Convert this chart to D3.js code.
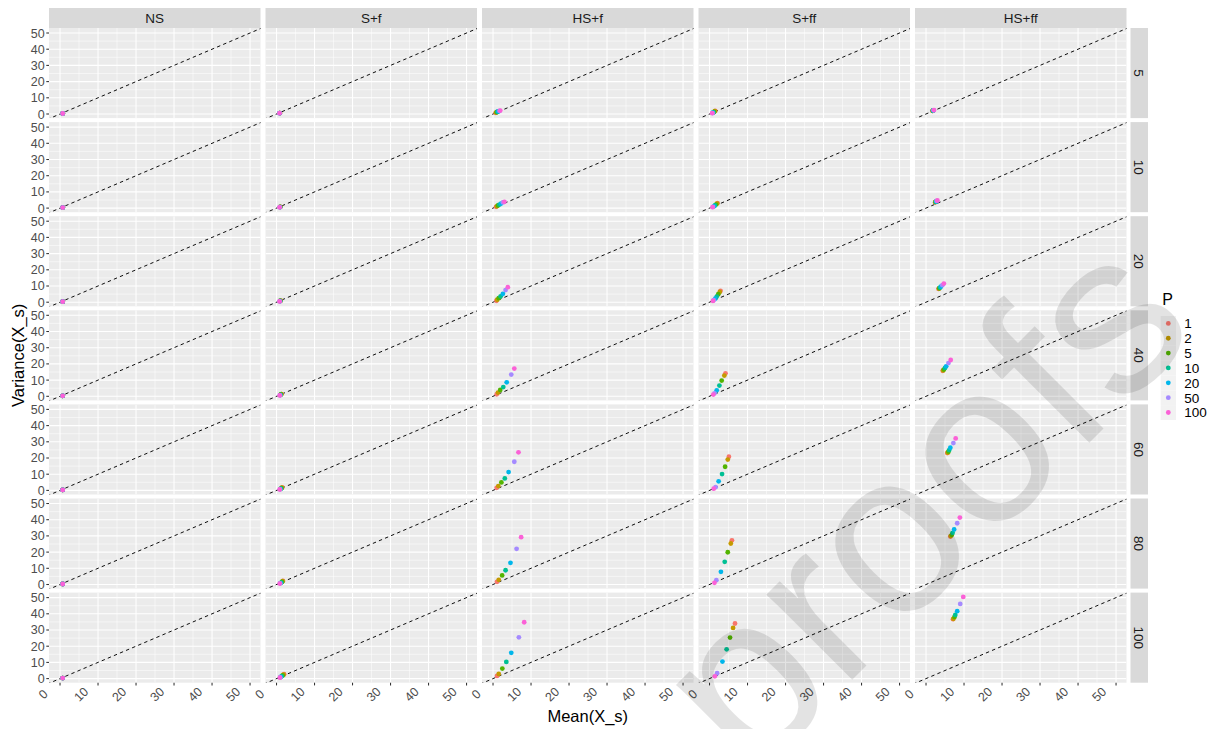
<!DOCTYPE html>
<html><head><meta charset="utf-8">
<script src="https://cdn.jsdelivr.net/npm/d3@7"></script>
<style>body{margin:0;background:#fff} svg{display:block} text{font-family:"Liberation Sans",Arial,Helvetica,sans-serif}</style>
</head><body><svg id="c" width="1217" height="729"></svg>
<script>
// ---------------- data ----------------
const colLabels = ["NS", "S+f", "HS+f", "S+ff", "HS+ff"];
const rowLabels = ["5", "10", "20", "40", "60", "80", "100"];
const pLevels = ["1", "2", "5", "10", "20", "50", "100"];
const pColors = ["#F8766D", "#C49A00", "#53B400", "#00C094", "#00B6EB", "#A58AFF", "#FB61D7"];
const xTicks = [0, 10, 20, 30, 40, 50];
const yTicks = [0, 10, 20, 30, 40, 50];

// each array: rows (5..100) x P levels (1..100)
const meanNS = [
  [0.7,0.7,0.7,0.7,0.7,0.7,0.7],[0.7,0.7,0.7,0.7,0.7,0.7,0.7],[0.7,0.7,0.7,0.7,0.7,0.7,0.7],
  [0.7,0.7,0.7,0.7,0.7,0.7,0.7],[0.7,0.7,0.7,0.7,0.7,0.7,0.7],[0.7,0.7,0.7,0.7,0.7,0.7,0.7],
  [0.7,0.7,0.7,0.7,0.7,0.7,0.7]];
const varNS = [
  [0.3,0.3,0.3,0.3,0.3,0.3,0.3],[0.3,0.3,0.3,0.3,0.3,0.3,0.3],[0.3,0.3,0.3,0.3,0.3,0.3,0.3],
  [0.3,0.3,0.3,0.3,0.3,0.3,0.3],[0.3,0.3,0.3,0.3,0.3,0.3,0.3],[0.3,0.3,0.3,0.3,0.3,0.3,0.3],
  [0.3,0.3,0.3,0.3,0.3,0.3,0.3]];
const meanSf = [
  [0.9,0.9,0.85,0.85,0.8,0.8,0.8],[1.0,1.0,0.95,0.9,0.9,0.85,0.8],[1.1,1.05,1.0,0.95,0.9,0.85,0.8],
  [1.3,1.25,1.15,1.05,0.95,0.9,0.85],[1.5,1.4,1.3,1.15,1.0,0.9,0.85],[1.7,1.6,1.45,1.25,1.05,0.95,0.85],
  [2.0,1.85,1.6,1.35,1.1,0.95,0.9]];
const varSf = [
  [0.6,0.6,0.55,0.55,0.5,0.5,0.5],[0.8,0.75,0.7,0.65,0.6,0.55,0.5],[1.0,0.95,0.85,0.75,0.65,0.55,0.5],
  [1.4,1.3,1.1,0.9,0.75,0.6,0.55],[1.8,1.65,1.35,1.05,0.8,0.65,0.55],[2.2,2.0,1.6,1.2,0.9,0.7,0.6],
  [2.7,2.4,1.9,1.4,1.0,0.75,0.6]];
const meanHSf = [
  [0.7,0.8,1.0,1.2,1.4,1.7,1.9],[0.8,1.0,1.3,1.7,2.1,2.6,3.0],[0.9,1.1,1.5,2.0,2.6,3.3,3.9],
  [0.97,1.3,1.9,2.7,3.6,4.8,5.6],[0.97,1.4,2.2,3.1,4.1,5.6,6.7],[1.05,1.5,2.4,3.3,4.6,6.2,7.4],
  [1.05,1.5,2.45,3.5,4.8,6.8,8.2]];
const varHSf = [
  [0.7,0.85,1.1,1.4,1.6,1.9,2.1],[0.8,1.1,1.6,2.2,2.8,3.5,3.9],[0.9,1.5,2.5,3.6,5.2,7.5,9.3],
  [1.2,2.3,3.9,5.7,8.6,13.4,17.1],[1.6,2.7,4.9,7.4,11.3,17.7,23.5],[1.65,2.9,5.6,8.8,13.4,22.0,29.2],
  [1.65,2.9,6.2,10.3,15.9,25.5,34.8]];
const meanSff = [
  [1.5,1.4,1.2,1.0,0.9,0.8,0.7],[2.1,2.0,1.7,1.4,1.2,0.9,0.8],[2.9,2.7,2.3,1.9,1.5,1.1,0.9],
  [4.2,3.9,3.2,2.6,1.9,1.3,1.0],[5.1,4.8,4.1,3.3,2.4,1.6,1.1],[5.9,5.6,4.8,4.0,3.0,1.8,1.3],
  [6.7,6.2,5.4,4.5,3.4,2.0,1.4]];
const varSff = [
  [1.9,1.7,1.3,1.0,0.8,0.6,0.5],[3.1,2.8,2.2,1.6,1.1,0.8,0.6],[7.0,6.3,4.9,3.5,2.2,1.2,0.8],
  [14.2,12.8,9.7,6.6,3.7,1.85,1.05],[20.8,19.0,14.6,10.1,5.6,2.0,1.05],[27.3,25.3,19.9,14.0,7.8,2.65,1.05],
  [34.0,31.3,25.3,18.1,10.5,3.3,1.4]];
const meanHSff = [
  [1.7,1.75,1.8,1.85,1.9,2.0,2.1],[2.4,2.45,2.5,2.6,2.7,2.8,3.0],[3.3,3.4,3.5,3.7,3.9,4.3,4.7],
  [4.4,4.5,4.7,5.0,5.3,5.9,6.5],[5.6,5.7,5.9,6.1,6.4,7.2,7.8],[6.4,6.5,6.8,7.0,7.4,8.2,8.9],
  [7.1,7.2,7.5,7.7,8.2,9.0,9.8]];
const varHSff = [
  [1.9,1.95,2.0,2.1,2.2,2.3,2.4],[3.6,3.7,3.8,3.9,4.1,4.4,4.7],[8.2,8.4,8.6,9.0,9.6,10.5,11.5],
  [15.7,16.0,16.5,17.5,18.5,20.5,22.4],[23.1,23.3,23.9,24.9,26.4,29.2,32.1],[29.6,29.9,30.7,31.9,34.0,37.8,41.3],
  [36.7,36.9,38.1,39.3,41.6,46.1,50.4]];

const meanByCol = [meanNS, meanSf, meanHSf, meanSff, meanHSff];
const varByCol = [varNS, varSf, varHSf, varSff, varHSff];

// ---------------- layout ----------------
const svg = d3.select("#c");
const L = 49, T = 28, PW = 211.5, PH = 90.1, GX = 5, GY = 4, SH = 20, SW = 17.5;
const x = d3.scaleLinear().domain([-2.9, 52.75]).range([0, PW]);
const y = d3.scaleLinear().domain([-2.53, 53.09]).range([PH, 0]);
const color = d3.scaleOrdinal().domain(pLevels).range(pColors);
const colX = i => L + i * (PW + GX);
const rowY = j => T + j * (PH + GY);
const minorX = [5, 15, 25, 35, 45], minorY = [5, 15, 25, 35, 45];

const defs = svg.append("defs");
defs.append("clipPath").attr("id", "pclip").append("rect").attr("width", PW).attr("height", PH);

colLabels.forEach((cl, i) => {
  svg.append("rect").attr("x", colX(i)).attr("y", T - SH).attr("width", PW).attr("height", SH).attr("fill", "#D9D9D9");
  svg.append("text").attr("x", colX(i) + PW / 2).attr("y", T - SH / 2).attr("dy", "0.36em")
    .attr("text-anchor", "middle").attr("font-size", 13.5).attr("fill", "#1A1A1A").text(cl);
  rowLabels.forEach((rl, j) => {
    const g = svg.append("g").attr("transform", `translate(${colX(i)},${rowY(j)})`);
    g.append("rect").attr("width", PW).attr("height", PH).attr("fill", "#EBEBEB");
    const gg = g.append("g").attr("clip-path", "url(#pclip)");
    gg.selectAll(".mx").data(minorX).join("line").attr("x1", d => x(d)).attr("x2", d => x(d)).attr("y1", 0).attr("y2", PH).attr("stroke", "#fff").attr("stroke-width", 0.53);
    gg.selectAll(".my").data(minorY).join("line").attr("y1", d => y(d)).attr("y2", d => y(d)).attr("x1", 0).attr("x2", PW).attr("stroke", "#fff").attr("stroke-width", 0.53);
    gg.selectAll(".Mx").data(xTicks).join("line").attr("x1", d => x(d)).attr("x2", d => x(d)).attr("y1", 0).attr("y2", PH).attr("stroke", "#fff").attr("stroke-width", 1.07);
    gg.selectAll(".My").data(yTicks).join("line").attr("y1", d => y(d)).attr("y2", d => y(d)).attr("x1", 0).attr("x2", PW).attr("stroke", "#fff").attr("stroke-width", 1.07);
    const dmin = -5, dmax = 60;
    gg.append("line").attr("x1", x(dmin)).attr("y1", y(dmin)).attr("x2", x(dmax)).attr("y2", y(dmax))
      .attr("stroke", "#000").attr("stroke-width", 0.95).attr("stroke-dasharray", "3.4,3.2");
    const pts = pLevels.map((p, k) => ({ p, m: meanByCol[i][j][k], v: varByCol[i][j][k] }));
    gg.selectAll("circle").data(pts).join("circle").attr("cx", d => x(d.m)).attr("cy", d => y(d.v))
      .attr("r", 2.4).attr("fill", d => color(d.p));
    if (i === 0) {
      const ya = svg.append("g").attr("transform", `translate(${colX(0)},${rowY(j)})`);
      ya.selectAll("line").data(yTicks).join("line").attr("x1", -2.7).attr("x2", 0).attr("y1", d => y(d)).attr("y2", d => y(d)).attr("stroke", "#333").attr("stroke-width", 1.07);
      ya.selectAll("text").data(yTicks).join("text").attr("x", -4.3).attr("y", d => y(d)).attr("dy", "0.36em")
        .attr("text-anchor", "end").attr("font-size", 12.5).attr("fill", "#4D4D4D").text(d => d);
    }
    if (j === rowLabels.length - 1) {
      const xa = svg.append("g").attr("transform", `translate(${colX(i)},${rowY(j) + PH})`);
      xa.selectAll("line").data(xTicks).join("line").attr("x1", d => x(d)).attr("x2", d => x(d)).attr("y1", 0).attr("y2", 2.7).attr("stroke", "#333").attr("stroke-width", 1.07);
      xa.selectAll("text").data(xTicks).join("text")
        .attr("transform", d => `translate(${x(d) - 17},${11.5}) rotate(-45)`)
        .attr("text-anchor", "middle").attr("dy", "0.36em").attr("font-size", 12.5).attr("fill", "#4D4D4D").text(d => d);
    }
  });
});

// right strips
rowLabels.forEach((rl, j) => {
  const sx = colX(colLabels.length - 1) + PW + 4;
  svg.append("rect").attr("x", sx).attr("y", rowY(j)).attr("width", SW).attr("height", PH).attr("fill", "#D9D9D9");
  svg.append("text").attr("transform", `translate(${sx + SW / 2},${rowY(j) + PH / 2}) rotate(90)`)
    .attr("dy", "0.36em").attr("text-anchor", "middle").attr("font-size", 13.5).attr("fill", "#1A1A1A").text(rl);
});

// axis titles
svg.append("text").attr("x", L + (5 * PW + 4 * GX) / 2).attr("y", 722).attr("text-anchor", "middle")
  .attr("font-size", 16.5).attr("fill", "#000").text("Mean(X_s)");
svg.append("text").attr("transform", `translate(24,${T + (7 * PH + 6 * GY) / 2}) rotate(-90)`).attr("text-anchor", "middle")
  .attr("font-size", 16.5).attr("fill", "#000").text("Variance(X_s)");

// legend
const lg = svg.append("g").attr("transform", "translate(1160.7,316)");
lg.append("text").attr("x", 1.5).attr("y", -11).attr("font-size", 16).attr("fill", "#000").text("P");
pLevels.forEach((p, k) => {
  lg.append("rect").attr("x", 0).attr("y", k * 14.85).attr("width", 15.3).attr("height", 14.85).attr("fill", "#F2F2F2");
  lg.append("circle").attr("cx", 7.6).attr("cy", k * 14.85 + 7.4).attr("r", 2.4).attr("fill", color(p));
  lg.append("text").attr("x", 23.5).attr("y", k * 14.85 + 7.4).attr("dy", "0.36em").attr("font-size", 13.5).attr("fill", "#000").text(p);
});

// watermark
svg.append("text").attr("transform", "translate(1201,331) rotate(-45)").attr("text-anchor", "end")
  .attr("font-size", 229).attr("fill", "#000").attr("fill-opacity", 0.11).text("Journal Pre-proofs");
</script></body></html>
